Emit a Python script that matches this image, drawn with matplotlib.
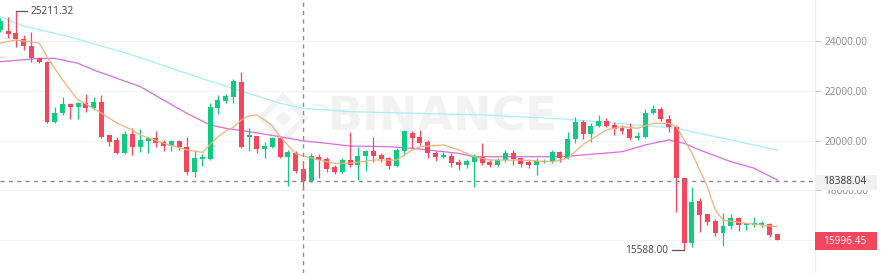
import matplotlib
matplotlib.use("Agg")
import matplotlib.pyplot as plt
import numpy as np
from matplotlib.patches import Rectangle

plt.rcParams["font.family"] = ["Open Sans", "DejaVu Sans"]

# candle data (open, high, low, close), one per period
opens = [24460, 24435, 24330, 24100, 23830, 23320, 23190, 20770, 21100, 21480,
         21350, 21510, 21300, 21550, 20230, 20030, 19490, 20270, 19760, 20000,
         20100, 19935, 19790, 19990, 19760, 18750, 19260, 19260, 21305, 21610,
         21775, 22380, 20150, 20190, 19650, 19760, 20100, 19355, 19490, 18850,
         18390, 19355, 19250, 18930, 18750, 19220, 19020, 19380, 19580, 19420,
         19290, 18980, 19600, 20320, 20140, 19960, 19520, 19355, 19400, 19130,
         19020, 19160, 19350, 19160, 19020, 19220, 19520, 19290, 19150, 19020,
         19130, 19160, 19530, 19290, 20060, 20770, 20270, 20590, 20810, 20630,
         20500, 20460, 20100, 20160, 21130, 21270, 20860, 20560, 18510, 15860,
         17580, 17040, 16775, 16270, 16560, 16870, 16600, 16600, 16600, 16640,
         16240]
highs = [24950, 25000, 25211.32, 24260, 24400, 23330, 23220, 21350, 21750, 21510,
         21570, 21870, 21775, 21840, 20230, 20160, 20390, 20525, 20460, 20160,
         20400, 20030, 20030, 20030, 20140, 19625, 19450, 21530, 21840, 21880,
         22490, 22760, 20500, 20190, 19960, 20160, 20160, 19625, 19600, 19150,
         19490, 19450, 19355, 19030, 19290, 20365, 19735, 19625, 20160, 19490,
         19355, 19690, 20450, 20400, 20430, 20030, 19600, 19525, 19520, 19250,
         19250, 19465, 19920, 19250, 19290, 19625, 19625, 19355, 19250, 19290,
         19250, 19625, 19600, 20365, 20970, 20840, 20700, 21040, 20900, 20770,
         20630, 20700, 20365, 21270, 21440, 21370, 21040, 20630, 18510, 18120,
         17680, 17040, 16840, 17100, 17040, 16940, 16700, 16940, 16780, 16700,
         16240]
lows = [24400, 24140, 23770, 23660, 23160, 23120, 20700, 20700, 21040, 20860,
        20860, 21170, 21240, 20100, 19790, 19460, 19470, 19420, 19560, 19520,
        19735, 19600, 19570, 19640, 18620, 18525, 18980, 19230, 21080, 21510,
        21510, 19720, 19600, 19490, 19290, 19720, 19290, 18175, 18690, 18010,
        18350, 18485, 18750, 18640, 18690, 18950, 18415, 18790, 19150, 19150,
        18850, 18950, 19400, 19700, 19830, 19290, 19200, 19290, 18950, 18820,
        18890, 18150, 19020, 18930, 18960, 19150, 19020, 18950, 18890, 18620,
        19090, 19090, 19160, 19250, 19900, 20060, 19960, 20560, 20540, 20230,
        20270, 20030, 20030, 20100, 21080, 20800, 20360, 17140, 15588, 15730,
        16330, 16600, 16160, 15755, 16430, 16360, 16390, 16520, 16520, 16120,
        15996.45]
closes = [24840, 24300, 24090, 23830, 23320, 23160, 20770, 21100, 21480, 21350,
          21510, 21300, 21570, 20160, 19960, 19490, 20260, 19760, 20030, 20100,
          19900, 19790, 19990, 19760, 18750, 19290, 19355, 21345, 21640, 21800,
          22420, 19760, 20220, 19650, 19790, 20100, 19355, 19530, 18790, 18390,
          19380, 19220, 18850, 18750, 19220, 19020, 19380, 19580, 19380, 19250,
          18980, 19625, 20400, 20100, 19900, 19490, 19355, 19420, 19090, 19020,
          19200, 19380, 19110, 19020, 19220, 19520, 19250, 19060, 19020, 19180,
          19200, 19530, 19290, 20060, 20770, 20260, 20590, 20800, 20590, 20460,
          20400, 20100, 20190, 21130, 21270, 20860, 20540, 18485, 15860, 17540,
          17000, 16735, 16270, 16560, 16870, 16600, 16670, 16670, 16670, 16200,
          15996.45]

# moving average lines (candle index, price)
ma7_idx = [0, 2, 5, 6, 8, 10, 11, 13, 15, 17, 18, 21, 24, 26, 27, 28, 29, 30, 31,
           32, 33, 34, 35, 36, 38, 39, 41, 43, 45, 48, 51, 53, 54, 57, 59, 61, 63,
           67, 71, 73, 75, 78, 80, 82, 84, 86, 87, 89, 91, 92, 93, 96, 100]
ma7_val = [23940, 24060, 23940, 23375, 22450, 21640, 21480, 21115, 20710, 20430,
           20230, 19900, 19630, 19530, 19850, 20150, 20390, 20550, 20835, 21000,
           21040, 20835, 20590, 20160, 19480, 19385, 19220, 19090, 19090, 19220,
           19220, 19625, 19760, 19830, 19625, 19355, 19220, 19220, 19155, 19290,
           19850, 20435, 20565, 20500, 20700, 20700, 20565, 19500, 18145, 17205,
           16800, 16670, 16530]
ma25_idx = [0, 5, 7, 10, 12, 15, 18, 21, 24, 27, 29, 32, 36, 39, 42, 45, 50, 53,
            59, 61, 67, 72, 75, 80, 83, 85, 86, 88, 90, 94, 97, 100]
ma25_val = [23185, 23320, 23320, 23120, 22850, 22515, 22180, 21640, 21105, 20635,
            20500, 20365, 20160, 19990, 19895, 19785, 19760, 19695, 19490, 19355,
            19355, 19355, 19425, 19555, 19830, 19960, 20030, 19895, 19625, 19155,
            18890, 18415]
ma99_idx = [0, 3, 9, 17, 26, 36, 39, 45, 62, 73, 87, 100]
ma99_val = [25000, 24620, 24180, 23455, 22500, 21510, 21300, 21170, 21040, 20865,
            20500, 19625]

y_ticks = [16000, 18000, 20000, 22000, 24000]
high_label = 25211.32
low_label = 15588.00
cross_price = 18388.04
cross_idx = 39
last_price = 15996.45

GREEN = "#0ecb81"
RED = "#f6465d"

fig = plt.figure(figsize=(8.81, 2.73), dpi=100)
fig.patch.set_facecolor("white")
ax = fig.add_axes([0, 0, 815 / 881, 1])
ax.set_facecolor("white")

x = np.arange(len(opens))
o = np.array(opens)
c = np.array(closes)
up = c >= o
cols = np.where(up, GREEN, RED)

# watermark
ax.text(0.5436, 0.568, "BINANCE", transform=ax.transAxes, ha="center", va="center",
        fontsize=33, fontweight="bold", color="#f2f2f2", family="DejaVu Sans", zorder=0)
ax.plot([0.347], [0.568], marker="D", markersize=22, markerfacecolor="none",
        markeredgecolor="#f2f2f2", markeredgewidth=4, transform=ax.transAxes, zorder=0)
ax.plot([0.347], [0.568], marker="D", markersize=7, color="#f2f2f2",
        transform=ax.transAxes, zorder=0)

# grid
for t in y_ticks:
    ax.axhline(t, color="#f4f4f4", lw=0.8, zorder=0)

# MA lines
ax.plot(ma99_idx, ma99_val, color="#a9eef2", lw=0.9, zorder=1)
ax.plot(ma25_idx, ma25_val, color="#d56ee0", lw=0.9, zorder=1)
ax.plot(ma7_idx, ma7_val, color="#f2b27c", lw=0.9, zorder=3)

# candles
ax.vlines(x, lows, highs, colors=cols, lw=0.9, zorder=2)
heights = np.maximum(np.abs(c - o), 45)
bottoms = np.minimum(o, c)
ax.bar(x, heights, bottom=bottoms, width=0.64, color=cols, linewidth=0, zorder=2)

# high / low annotations
ax.plot([2, 3.4], [high_label, high_label], color="#555555", lw=0.9, zorder=4)
ax.text(3.9, high_label, f"{high_label:.2f}", va="center", ha="left",
        fontsize=7.3, color="#444444")
ax.plot([86.4, 88], [low_label, low_label], color="#555555", lw=0.9, zorder=4)
ax.text(85.95, low_label, f"{low_label:.2f}", va="center", ha="right",
        fontsize=7.3, color="#444444")

# crosshair
ax.axvline(cross_idx, color="#8c8c8c", lw=1, dashes=(3, 3), zorder=5)
ax.axhline(cross_price, color="#8c8c8c", lw=1, dashes=(3, 3), zorder=5)

ax.set_xlim(-0.05, 104.84)
ax.set_ylim(14666, 25673)

ax.yaxis.tick_right()
ax.set_yticks(y_ticks)
ax.set_yticklabels([f"{t:.2f}" for t in y_ticks])
ax.tick_params(axis="y", colors="#c8c8c8", labelcolor="#8a8a8a", labelsize=7.3,
               length=4, width=0.8, pad=3)
ax.set_xticks([])
for s in ["top", "left", "bottom"]:
    ax.spines[s].set_visible(False)
ax.spines["right"].set_color("#ececec")

# price labels on the right axis
ytr = ax.get_yaxis_transform()
box_w = 62 / 815
px = (25673 - 14666) / 273
ax.add_patch(Rectangle((1.0, cross_price - 9 * px), box_w, 15 * px, transform=ytr,
                       facecolor="#f1f1f1", edgecolor="none", clip_on=False, zorder=6))
ax.text(1.0 + 8 / 815, cross_price - 1 * px, f"{cross_price:.2f}", transform=ytr,
        va="center", ha="left", fontsize=7.3, color="#333333", zorder=7)
ax.add_patch(Rectangle((1.0, last_price - 10 * px), box_w, 18 * px, transform=ytr,
                       facecolor=RED, edgecolor="none", clip_on=False, zorder=6))
ax.text(1.0 + 8 / 815, last_price - 1 * px, f"{last_price:.2f}", transform=ytr,
        va="center", ha="left", fontsize=7.3, color="white", zorder=7)

fig.savefig("out.png", dpi=100, facecolor="white")
